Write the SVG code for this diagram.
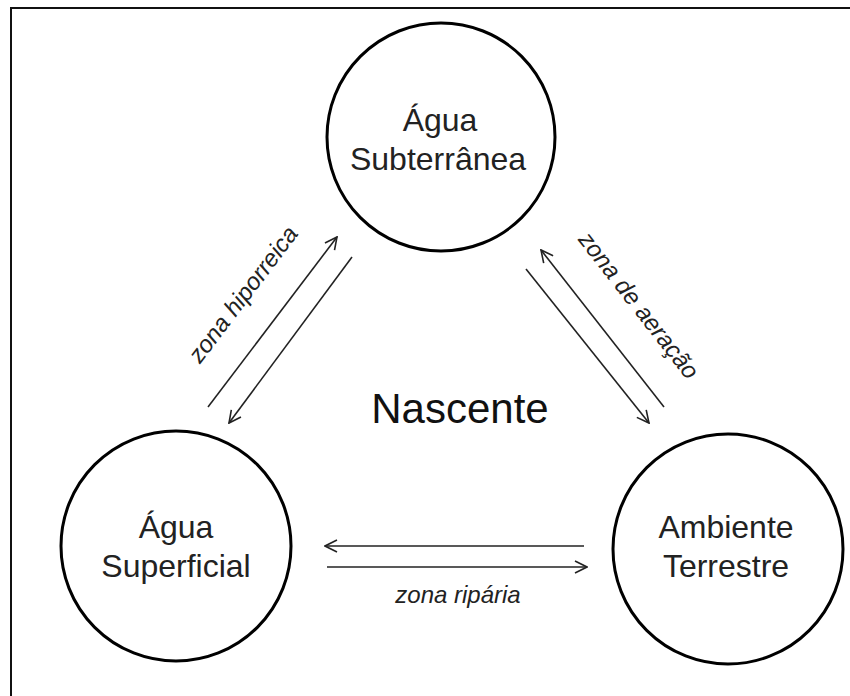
<svg xmlns="http://www.w3.org/2000/svg" width="850" height="696" viewBox="0 0 850 696">
<style>
.node circle{fill:#fff;stroke:#000;stroke-width:3}
.nt{font-family:"Liberation Sans",Arial,sans-serif;font-size:32px;fill:#222;text-anchor:middle}
.lbl{font-family:"Liberation Sans",Arial,sans-serif;font-size:24px;font-style:italic;fill:#222;text-anchor:middle}
.conn line{stroke:#222;stroke-width:1.6;fill:none;marker-end:url(#arr)}
</style>
<defs>
<marker id="arr" viewBox="0 0 14 14" refX="13" refY="7" markerWidth="14" markerHeight="14" markerUnits="userSpaceOnUse" orient="auto">
<path d="M1,1 L13,7 L1,13" fill="none" stroke="#222" stroke-width="1.6"/>
</marker>
</defs>
<rect x="0" y="0" width="850" height="696" fill="#fff"/>
<rect x="11" y="8" width="900" height="800" fill="none" stroke="#111" stroke-width="2"/>
<g id="agua-subterranea" class="node">
<circle cx="441" cy="137" r="114"/>
<text class="nt" x="440" y="131">Água</text>
<text class="nt" x="438" y="170">Subterrânea</text>
</g>
<g id="agua-superficial" class="node">
<circle cx="176" cy="546" r="115"/>
<text class="nt" x="176" y="538">Água</text>
<text class="nt" x="176" y="577">Superficial</text>
</g>
<g id="ambiente-terrestre" class="node">
<circle cx="728" cy="549" r="115"/>
<text class="nt" x="726" y="538">Ambiente</text>
<text class="nt" x="726" y="577">Terrestre</text>
</g>
<g id="nascente">
<text x="460" y="423" font-family="Liberation Sans, Arial, sans-serif" font-size="42" fill="#111" text-anchor="middle">Nascente</text>
</g>
<g id="connectors" class="conn">
<line x1="208" y1="407" x2="337" y2="237"/>
<line x1="352" y1="257" x2="229" y2="423"/>
<line x1="664" y1="407" x2="541" y2="250"/>
<line x1="526" y1="269" x2="649" y2="423"/>
<line x1="584" y1="546" x2="325" y2="546"/>
<line x1="327" y1="567" x2="587" y2="567"/>
</g>
<g id="labels">
<text class="lbl" transform="translate(244,295) rotate(-52.8)" x="0" y="7">zona hiporreica</text>
<text class="lbl" transform="translate(638,306) rotate(52)" x="0" y="7">zona de aeração</text>
<text class="lbl" x="458" y="603">zona ripária</text>
</g>
</svg>
